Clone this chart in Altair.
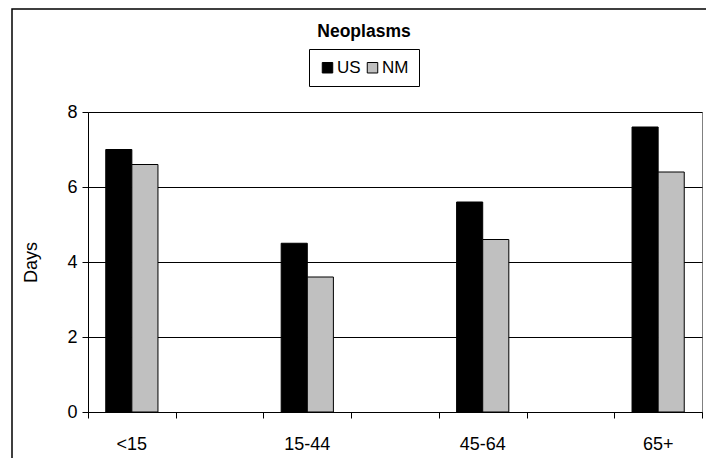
import altair as alt
import pandas as pd

categories = ["<15", "15-44", "45-64", "65+"]
us_days = [7.0, 4.5, 5.6, 7.6]
nm_days = [6.6, 3.6, 4.6, 6.4]
series = ["US", "NM"]
colors = ["#000000", "#c0c0c0"]
slots = ["<15", " ", "15-44", "  ", "45-64", "   ", "65+"]
y_ticks = [0, 2, 4, 6, 8]
boundaries = [0, 1, 2, 3, 4, 5, 6, 7]
title_text = ["Neoplasms"]

rows = []
for c, u, n in zip(categories, us_days, nm_days):
    rows.append({"group": c, "series": "US", "days": u})
    rows.append({"group": c, "series": "NM", "days": n})
df = pd.DataFrame(rows)

FONT = "Liberation Sans"
FS = 18

bars = alt.Chart(df).mark_bar(stroke="black", strokeWidth=1).encode(
    x=alt.X(
        "group:N",
        scale=alt.Scale(domain=slots, paddingInner=0, paddingOuter=0),
        axis=alt.Axis(title=None, labelAngle=0, labelFontSize=FS, labelFont=FONT,
                      labelColor="black", ticks=False, domainColor="black",
                      labelPadding=23, orient="bottom"),
    ),
    xOffset=alt.XOffset("series:N", scale=alt.Scale(domain=series, paddingInner=0, paddingOuter=0.68)),
    y=alt.Y(
        "days:Q",
        scale=alt.Scale(domain=[0, 8], nice=False),
        axis=alt.Axis(values=y_ticks, title="Days", titleFontSize=FS, titleFont=FONT,
                      titleFontWeight="normal", titleColor="black", titlePadding=26,
                      labelFontSize=FS, labelFont=FONT, labelColor="black", labelPadding=5,
                      tickSize=6, tickColor="black", domainColor="black",
                      grid=True, gridColor="black", gridWidth=1),
    ),
    color=alt.Color(
        "series:N",
        scale=alt.Scale(domain=series, range=colors),
        legend=alt.Legend(orient="none", legendX=221, legendY=-63, direction="horizontal",
                          title=None, strokeColor="black", fillColor="white", padding=10,
                          symbolType="square", symbolSize=110, symbolStrokeColor="black",
                          symbolStrokeWidth=1, labelFontSize=17, labelFont=FONT,
                          labelColor="black", columnPadding=3, labelOffset=1),
    ),
)

ticks = alt.Chart(pd.DataFrame({"b": boundaries})).mark_rule(opacity=0).encode(
    x=alt.X("b:Q", scale=alt.Scale(domain=[0, 7], nice=False, zero=False),
            axis=alt.Axis(values=boundaries, labels=False, domain=False, grid=False,
                          tickSize=6, tickColor="black", title=None, orient="bottom")),
)

border = alt.Chart(pd.DataFrame({"k": [0]})).mark_rect(
    fillOpacity=0, stroke="black", strokeWidth=1.5
).encode(
    x=alt.value(-76), x2=alt.value(619), y=alt.value(-103), y2=alt.value(400)
)

title = alt.Chart(pd.DataFrame({"t": title_text})).mark_text(
    font=FONT, fontSize=17.5, fontWeight="bold", color="black",
    align="center", baseline="middle"
).encode(
    text="t:N", x=alt.value(276), y=alt.value(-80)
)

chart = alt.layer(border, bars, ticks, title).resolve_scale(x="independent").properties(
    width=614,
    height=300,
    autosize=alt.AutoSizeParams(type="none"),
    padding={"left": 80, "top": 104, "right": 4, "bottom": 46},
).configure_view(stroke="#808080", strokeWidth=1)

chart.save("out.html", embed_options={"renderer": "svg", "actions": False})
